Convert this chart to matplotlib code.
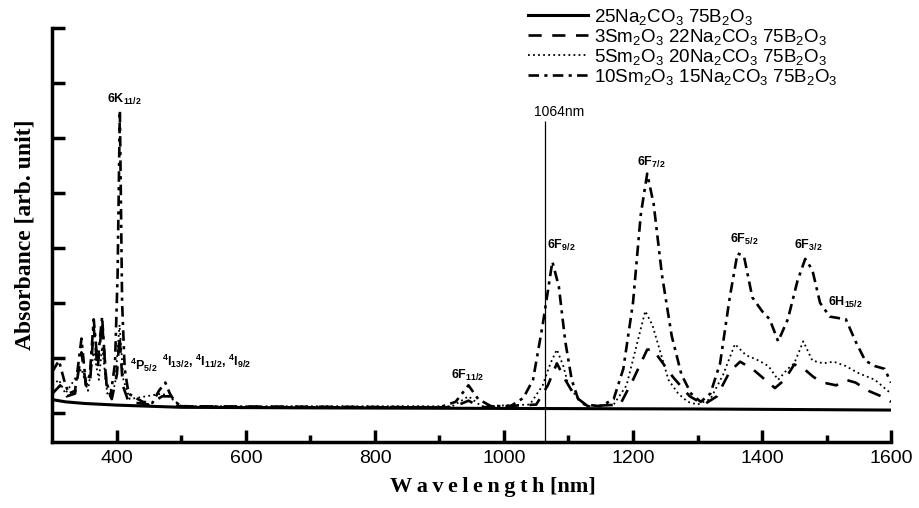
import numpy as np
import matplotlib
matplotlib.use("Agg")
import matplotlib.pyplot as plt

plt.rcParams['font.family'] = ['Liberation Sans', 'DejaVu Sans']
plt.rcParams['mathtext.default'] = 'regular'

# series data (wavelength nm, absorbance arb. unit)
wl_base = [300, 320, 350, 400, 450, 500, 700, 1000, 1300, 1600]
ab_base = [0.24, 0.2, 0.17, 0.14, 0.12, 0.1, 0.09, 0.08, 0.07, 0.05]

wl_3sm = [300, 312, 322, 335, 345, 352, 358, 364, 370, 377, 384, 392, 400, 404, 409, 418,
          450, 470, 485, 495, 920, 945, 965, 1050, 1068, 1082, 1095, 1110, 1130, 1180,
          1200, 1222, 1231, 1262, 1288, 1310, 1330, 1350, 1366, 1385, 1405, 1420, 1435,
          1450, 1465, 1480, 1495, 1515, 1530, 1545, 1565, 1585, 1600]
ab_3sm = [0.35, 0.5, 0.3, 0.35, 1.1, 0.5, 0.5, 1.55, 0.8, 1.65, 0.5, 0.25, 0.7, 1.4, 0.5, 0.2,
          0.15, 0.3, 0.3, 0.12, 0.1, 0.22, 0.1, 0.15, 0.5, 0.9, 0.6, 0.3, 0.12, 0.15,
          0.6, 1.15, 1.15, 0.65, 0.3, 0.15, 0.3, 0.75, 0.93, 0.8, 0.6, 0.45, 0.6,
          0.88, 0.8, 0.65, 0.55, 0.5, 0.6, 0.55, 0.4, 0.3, 0.2]

wl_5sm = [300, 310, 320, 345, 355, 364, 372, 377, 385, 397, 404, 410, 420, 470, 480, 500,
          920, 945, 965, 1040, 1060, 1072, 1082, 1092, 1100, 1115, 1130, 1170, 1190, 1205,
          1219, 1230, 1240, 1255, 1270, 1285, 1300, 1320, 1340, 1358, 1375, 1395, 1410,
          1425, 1440, 1450, 1464, 1478, 1495, 1511, 1530, 1548, 1575, 1593, 1600]
ab_5sm = [0.5, 0.6, 0.35, 0.8, 0.4, 1.1, 0.6, 1.2, 0.35, 0.5, 1.6, 0.6, 0.25, 0.35, 0.3, 0.12,
          0.12, 0.3, 0.12, 0.15, 0.5, 0.9, 1.15, 0.85, 0.5, 0.25, 0.12, 0.15, 0.5, 1.2,
          1.85, 1.6, 1.2, 0.6, 0.35, 0.2, 0.15, 0.25, 0.7, 1.25, 1.05, 0.95, 0.85,
          0.6, 0.8, 0.9, 1.3, 0.95, 0.9, 0.93, 0.85, 0.73, 0.6, 0.42, 0.35]

wl_10sm = [300, 310, 318, 325, 335, 345, 352, 358, 364, 370, 377, 383, 390, 397, 401, 404.5,
           408, 412, 418, 425, 440, 455, 465, 475, 482, 490, 500, 600, 900, 925, 945, 960,
           980, 1010, 1030, 1045, 1060, 1075, 1085, 1095, 1105, 1115, 1125, 1150, 1170,
           1185, 1200, 1212, 1222, 1232, 1245, 1260, 1275, 1290, 1305, 1320, 1335, 1350,
           1362, 1372, 1385, 1400, 1412, 1425, 1440, 1455, 1467, 1478, 1490, 1505, 1530,
           1545, 1560, 1575, 1590, 1600]
ab_10sm = [0.75, 0.95, 0.6, 0.35, 0.4, 1.35, 0.5, 0.7, 1.7, 0.9, 1.75, 0.6, 0.3, 0.9, 2.5, 5.5,
           2.0, 0.8, 0.35, 0.3, 0.2, 0.18, 0.4, 0.55, 0.35, 0.2, 0.12, 0.1, 0.1, 0.2, 0.5, 0.25,
           0.12, 0.12, 0.27, 0.6, 1.6, 2.75, 2.3, 1.3, 0.6, 0.25, 0.15, 0.12, 0.25,
           0.8, 2.0, 3.6, 4.35, 3.8, 2.5, 1.4, 0.7, 0.35, 0.2, 0.35, 0.9, 2.1,
           2.9, 2.85, 2.1, 1.85, 1.7, 1.3, 1.7, 2.4, 2.8, 2.6, 2.0, 1.75, 1.7,
           1.3, 0.95, 0.85, 0.8, 0.55]

labels = [r"25Na$_2$CO$_3$ 75B$_2$O$_3$",
          r"3Sm$_2$O$_3$ 22Na$_2$CO$_3$ 75B$_2$O$_3$",
          r"5Sm$_2$O$_3$ 20Na$_2$CO$_3$ 75B$_2$O$_3$",
          r"10Sm$_2$O$_3$ 15Na$_2$CO$_3$ 75B$_2$O$_3$"]

# transition labels: (text, x, y)
peaks = [(r"6K$_{11/2}$", 385, 5.7),
         (r"$^4$P$_{5/2}$", 420, 0.87),
         (r"$^4$I$_{13/2}$, $^4$I$_{11/2}$, $^4$I$_{9/2}$", 470, 0.93),
         (r"6F$_{11/2}$", 918, 0.68),
         (r"6F$_{9/2}$", 1066, 3.05),
         (r"6F$_{7/2}$", 1206, 4.55),
         (r"6F$_{5/2}$", 1350, 3.15),
         (r"6F$_{3/2}$", 1450, 3.05),
         (r"6H$_{15/2}$", 1503, 2.0)]

fig = plt.figure(figsize=(9.2, 5.08), dpi=100)
ax = fig.add_axes([0.057, 0.13, 0.9115, 0.815])

l0, = ax.plot(wl_base, ab_base, color='black', lw=2.2)
l1, = ax.plot(wl_3sm, ab_3sm, color='black', lw=1.9, dashes=(5, 4))
l2, = ax.plot(wl_5sm, ab_5sm, color='black', lw=1.3, dashes=(1, 1.8))
l3, = ax.plot(wl_10sm, ab_10sm, color='black', lw=1.9, dashes=(4, 2, 1.2, 2))

ax.vlines(1064, -0.53, 5.3, color='black', lw=0.9)
ax.text(1046, 5.47, "1064nm", fontsize=10, va='center')

for txt, x, y in peaks:
    ax.text(x, y, txt, fontsize=9, fontweight='bold', va='center')

ax.set_xlim(300, 1600)
ax.set_ylim(-0.53, 7.0)
ax.set_xticks(np.arange(400, 1601, 200))
ax.set_xticks(np.arange(500, 1600, 200), minor=True)
ax.set_yticks(np.arange(0, 8, 1))
ax.set_yticklabels([])
ax.tick_params(axis='both', which='major', direction='in', length=9, width=2.5, labelsize=14, pad=6)
ax.tick_params(axis='x', which='minor', direction='in', length=5, width=2.5)
for s in ['top', 'right']:
    ax.spines[s].set_visible(False)
for s in ['left', 'bottom']:
    ax.spines[s].set_linewidth(2.5)

ax.set_xlabel("W\u2009a\u2009v\u2009e\u2009l\u2009e\u2009n\u2009g\u2009t\u2009h [nm]",
              family=['Liberation Serif', 'DejaVu Serif'], fontweight='bold', fontsize=16)
ax.xaxis.set_label_coords(0.525, -0.085)
ax.set_ylabel("Absorbance [arb. unit]", family=['Liberation Serif', 'DejaVu Serif'],
              fontweight='bold', fontsize=17, labelpad=6)

fig.legend([l0, l1, l2, l3], labels, loc='upper left', bbox_to_anchor=(0.556, 1.02),
           frameon=False, fontsize=13.5, handlelength=3.2, handletextpad=0.3, labelspacing=0.0)

fig.savefig("out.png", dpi=100)
